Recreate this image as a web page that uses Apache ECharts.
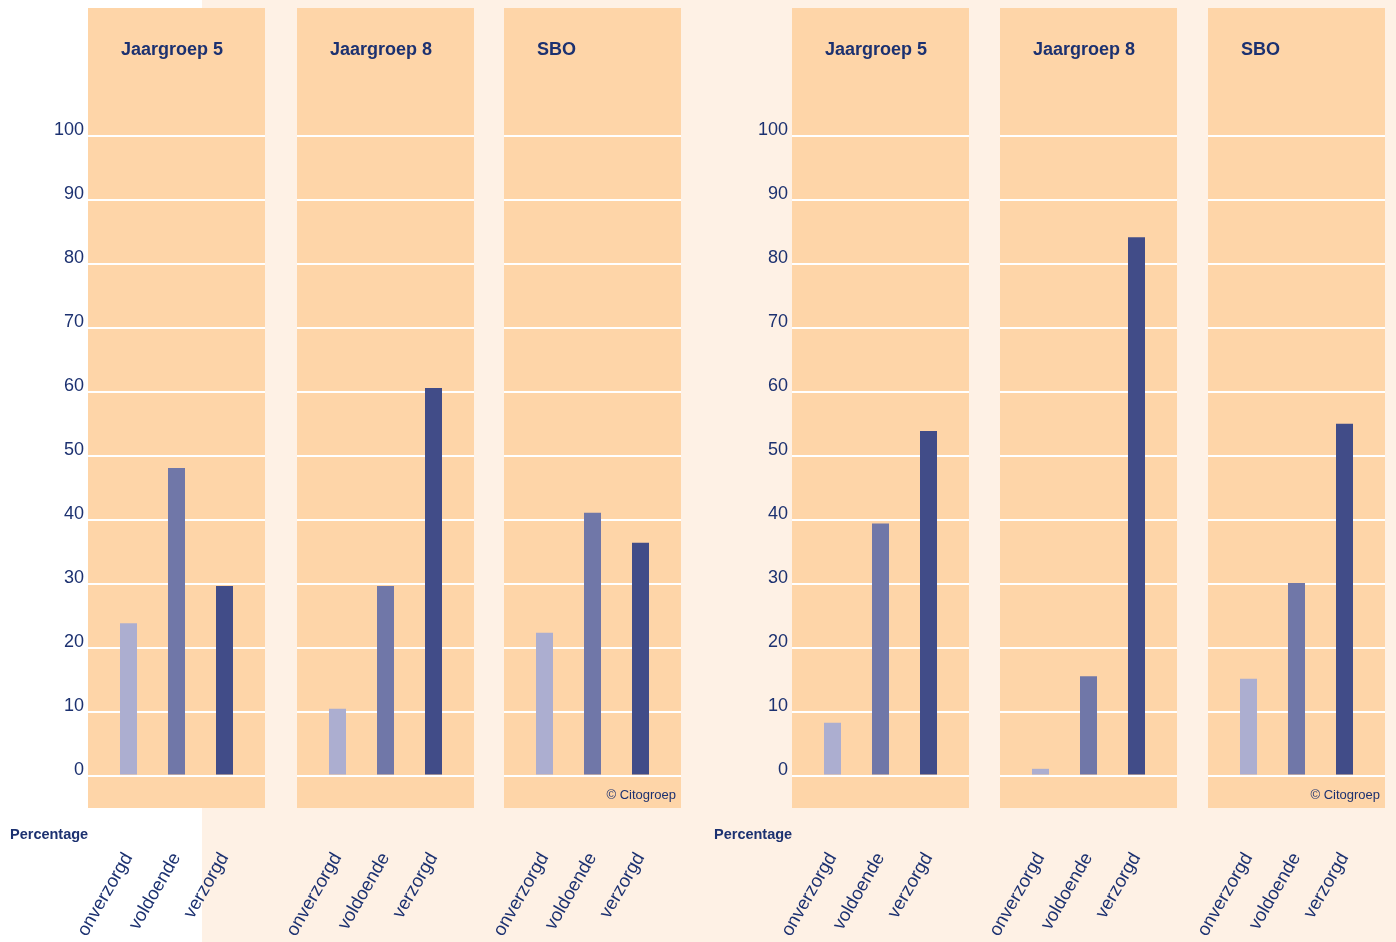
<!DOCTYPE html>
<html>
<head>
<meta charset="utf-8">
<script src="https://cdn.jsdelivr.net/npm/echarts@6/dist/echarts.min.js"></script>
<style>
  html, body { margin: 0; padding: 0; }
  #chart { width: 1396px; height: 942px; background: linear-gradient(to right, #ffffff 202px, #fef1e5 202px); }
</style>
</head>
<body>
<div id="chart"></div>
<script>
// ---- data ----
const categories = ['onverzorgd', 'voldoende', 'verzorgd'];
const panelTitles = ['Jaargroep 5', 'Jaargroep 8', 'SBO', 'Jaargroep 5', 'Jaargroep 8', 'SBO'];
const leftJaargroep5 = [23.7, 48.0, 29.5];
const leftJaargroep8 = [10.3, 29.5, 60.5];
const leftSBO = [22.2, 41.0, 36.3];
const rightJaargroep5 = [8.1, 39.3, 53.8];
const rightJaargroep8 = [0.9, 15.4, 84.1];
const rightSBO = [15.0, 30.0, 54.9];
const yTicks = [0, 10, 20, 30, 40, 50, 60, 70, 80, 90, 100];
const axisTitle = 'Percentage';
const creditText = '© Citogroep';

// ---- layout / style ----
const panelValues = [leftJaargroep5, leftJaargroep8, leftSBO, rightJaargroep5, rightJaargroep8, rightSBO];
const panelLefts = [88, 297, 504, 792, 1000, 1208];
const panelWidth = 177;
const panelTop = 8;
const panelHeight = 800;
const barAreaWidth = 144;
const navy = '#1c3170';
const barColors = ['#acaed0', '#7077a8', '#414c88'];
const fontFamily = "'Liberation Sans', Arial, sans-serif";

const grids = [], xAxes = [], yAxes = [], series = [], titles = [];

panelLefts.forEach((pl, i) => {
  const bgIdx = grids.length;
  // background panel grid
  grids.push({ left: pl, top: panelTop, width: panelWidth, height: panelHeight,
    show: true, backgroundColor: '#fed5a8', borderWidth: 0, containLabel: false, z: 0 });
  xAxes.push({ gridIndex: bgIdx, type: 'value', min: 0, max: 1, show: false });
  const showY = (i === 0 || i === 3);
  yAxes.push({ gridIndex: bgIdx, type: 'value', min: -5, max: 120, interval: 5,
    axisLine: { show: false }, axisTick: { show: false }, splitLine: { show: false },
    axisLabel: { show: showY, margin: 4, color: navy, fontSize: 18, fontFamily: fontFamily,
      verticalAlign: 'bottom', lineHeight: 11,
      formatter: v => (yTicks.indexOf(v) >= 0 ? String(v) : '') } });
  series.push({ type: 'line', xAxisIndex: bgIdx, yAxisIndex: bgIdx, data: [], z: 1, silent: true,
    markLine: { z: 1, silent: true, symbol: ['none', 'none'], label: { show: false },
      lineStyle: { color: '#ffffff', width: 2, type: 'solid' }, emphasis: { disabled: true },
      data: yTicks.map(v => ({ yAxis: v })) } });

  // bar grid
  const bIdx = grids.length;
  grids.push({ left: pl + (panelWidth - barAreaWidth) / 2, top: panelTop, width: barAreaWidth, height: panelHeight, show: false });
  xAxes.push({ gridIndex: bIdx, type: 'category', data: categories, boundaryGap: true,
    axisLine: { show: false }, axisTick: { show: false },
    axisLabel: { rotate: 60, margin: 48, color: navy, fontSize: 18.5, fontFamily: fontFamily, interval: 0 } });
  yAxes.push({ gridIndex: bIdx, type: 'value', min: -5, max: 120, show: false });
  series.push({ type: 'bar', xAxisIndex: bIdx, yAxisIndex: bIdx, data: panelValues[i], barWidth: 17, z: 5,
    itemStyle: { color: p => barColors[p.dataIndex] } });

  titles.push({ text: panelTitles[i], left: pl + 33, top: 41, padding: 0,
    textStyle: { color: navy, fontSize: 18, fontWeight: 'bold', fontFamily: fontFamily } });
});

titles.push({ text: axisTitle, left: 10, top: 827, padding: 0,
  textStyle: { color: navy, fontSize: 14.5, fontWeight: 'bold', fontFamily: fontFamily } });
titles.push({ text: axisTitle, left: 714, top: 827, padding: 0,
  textStyle: { color: navy, fontSize: 14.5, fontWeight: 'bold', fontFamily: fontFamily } });
titles.push({ text: creditText, right: 1396 - 676, top: 789, padding: 0,
  textStyle: { color: navy, fontSize: 13, fontWeight: 'normal', fontFamily: fontFamily } });
titles.push({ text: creditText, right: 1396 - 1380, top: 789, padding: 0,
  textStyle: { color: navy, fontSize: 13, fontWeight: 'normal', fontFamily: fontFamily } });

const chart = echarts.init(document.getElementById('chart'), null, { renderer: 'canvas' });
chart.setOption({
  animation: false,
  backgroundColor: 'transparent',
  title: titles,
  grid: grids,
  xAxis: xAxes,
  yAxis: yAxes,
  series: series
});
</script>
</body>
</html>
